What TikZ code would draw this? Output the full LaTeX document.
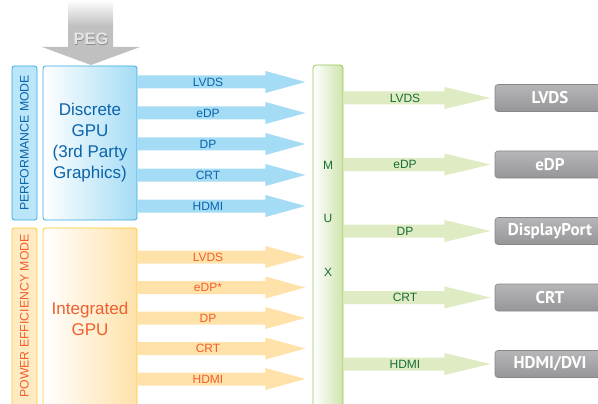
\documentclass[tikz,border=0pt]{standalone}
\usepackage{fontspec}
\setmainfont{Liberation Sans}
\newfontfamily\boxfont{PT Sans}
\usetikzlibrary{positioning, calc}
\definecolor{bluefill}{RGB}{165,220,245}
\definecolor{blueline}{RGB}{55,170,225}
\definecolor{bluetext}{RGB}{10,100,170}
\definecolor{orgfill}{RGB}{255,226,170}
\definecolor{orgline}{RGB}{252,200,40}
\definecolor{orgtext}{RGB}{240,95,45}
\definecolor{grnfill}{RGB}{222,235,195}
\definecolor{grnline}{RGB}{150,200,85}
\definecolor{grntext}{RGB}{25,110,55}
\definecolor{pegcol}{RGB}{192,192,192}
\definecolor{outtop}{RGB}{182,182,184}
\definecolor{outbot}{RGB}{150,150,152}

% block arrow: start, shaft length, head length
\newcommand{\blockarrow}[3]{(#1) ++(0,-6.5) -- ++(#2,0) -- ++(0,-4.5)
  -- ++(#3,11) -- ++(-#3,11) -- ++(0,-4.5) -- ++(-#2,0) -- cycle}

\begin{document}
\begin{tikzpicture}[
  x=1pt, y=-1pt,
  modebar/.style={rounded corners=2.5pt, line width=0.8pt,
    minimum width=25pt, inner sep=0pt},
  gpubox/.style={rounded corners=2.5pt, line width=0.8pt,
    minimum width=94pt, inner sep=0pt, align=center,
    font=\fontsize{17}{21}\selectfont},
  modetxt/.style={rotate=90, font=\fontsize{12.3}{14}\selectfont},
  arrtxt/.style={font=\fontsize{12}{14}\selectfont},
  outbox/.style={rounded corners=3pt, draw=outbot!90!black, line width=0.6pt,
    top color=outtop, bottom color=outbot, minimum width=110pt,
    minimum height=27pt, text=white,
    font=\boxfont\bfseries\fontsize{17}{19}\selectfont}
]
  \useasboundingbox (0,0) rectangle (598,404);
  \clip (0,0) rectangle (598,404);

  % PEG input
  \shade[top color=white, bottom color=pegcol] (68,0) rectangle (113,26);
  \fill[pegcol] (68,25.5) -- (68,47) -- (42,47) -- (91,65) -- (140,47)
    -- (113,47) -- (113,25.5) -- cycle;
  \node[font=\bfseries\fontsize{16.5}{18}\selectfont, text=black!45]
    at (91.6,39.6) {PEG};
  \node[font=\bfseries\fontsize{16.5}{18}\selectfont, text=black!10]
    (peg) at (91,39) {PEG};

  % performance side
  \node[modebar, draw=blueline, fill=bluefill!75, minimum height=154pt]
    (perf) at (24.5,143) {};
  \node[modetxt, text=bluetext] at (perf) {PERFORMANCE MODE};
  \node[gpubox, draw=blueline, left color=white, right color=bluefill,
        minimum height=154pt, text=bluetext] (dgpu) at (90,143)
    {Discrete\\GPU\\(3rd Party\\Graphics)};

  % power efficiency side
  \node[modebar, draw=orgline, fill=orgfill!70, minimum height=184pt]
    (pow) at (24.5,320) {};
  \node[modetxt, text=orgtext] at (24.5,316) {POWER EFFICIENCY MODE};
  \node[gpubox, draw=orgline, left color=white, right color=orgfill,
        minimum height=184pt, text=orgtext] (igpu) at (90,320) {};
  \node[gpubox, text=orgtext] at (90,319) {Integrated\\GPU};

  % mux
  \node[rounded corners=3pt, draw=grnline, line width=0.8pt,
        left color=white, right color=grnfill!80!grnline,
        minimum width=30pt, minimum height=350pt] (mux) at (328,240) {};
  \foreach \ch/\y in {M/165, U/218, X/272}
    \node[arrtxt, text=grntext] at (328,\y) {\ch};

  % links
  \foreach \lab [count=\i] in {LVDS, eDP, DP, CRT, HDMI} {
    \pgfmathsetmacro{\yb}{82+31*(\i-1)}
    \pgfmathsetmacro{\yo}{257+30.5*(\i-1)}
    \pgfmathsetmacro{\yg}{98+66.5*(\i-1)}
    \fill[bluefill] \blockarrow{dgpu.east |- 0,\yb}{128}{40};
    \node[arrtxt, text=bluetext] (bl\i) at (208,\yb) {\lab};
    \fill[orgfill] \blockarrow{igpu.east |- 0,\yo}{128}{40};
    \node[arrtxt, text=orgtext] (ol\i) at (208,\yo)
      {\ifnum\i=2 eDP*\else\lab\fi};
    \fill[grnfill] \blockarrow{mux.east |- 0,\yg}{101}{46};
    \node[arrtxt, text=grntext] (gl\i) at (405,\yg) {\lab};
  }

  % outputs
  \foreach \lab [count=\i] in {LVDS, eDP, DisplayPort, CRT, HDMI/DVI} {
    \pgfmathsetmacro{\yg}{98+66.5*(\i-1)}
    \node[outbox] (out\i) at (550,\yg) {\lab};
  }
\end{tikzpicture}
\end{document}
